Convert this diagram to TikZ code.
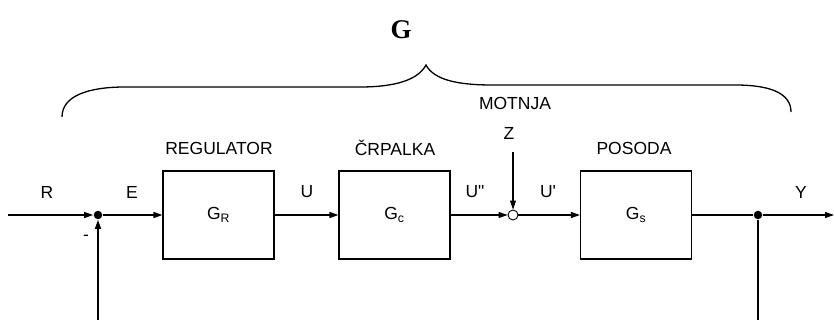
\documentclass[tikz,border=0pt]{standalone}
\usepackage{fontspec}
\setmainfont{Liberation Sans}[Ligatures=TeXOff]
\newfontfamily\gfont{Liberation Serif}
\usepackage{tikz}
\usetikzlibrary{positioning,arrows.meta}

\begin{document}
\begin{tikzpicture}[
  x=1pt, y=1pt, line width=1.1pt,
  font=\fontsize{17.5}{20}\selectfont, >={Stealth[length=9pt,width=6pt,inset=0pt]},
  blk/.style={draw, rectangle, minimum width=111pt, minimum height=88pt, inner sep=0pt},
  lbl/.style={inner sep=0pt, anchor=center},
  dot/.style={circle, fill, inner sep=0pt, minimum size=8.5pt},
  sum/.style={circle, draw, fill=white, line width=0.9pt, inner sep=0pt, minimum size=10pt},
  sig/.style={->},
]
\useasboundingbox (0,0) rectangle (834,-320);

% blocks
\node[blk] (gr) at (218.5,-215) {G\textsubscript{R}};
\node[blk] (gc) at (394.5,-215) {G\textsubscript{c}};
\node[blk] (gs) at (636,-215)   {G\textsubscript{s}};

% junctions
\node[dot] (sum1) at (98,-215)  {};
\node[sum] (sum2) at (513,-215) {};
\node[dot] (pick) at (758,-215) {};

\coordinate (in)  at (8,-215);
\coordinate (out) at (834,-215);
\coordinate (zin) at (513,-152);
\coordinate (fbl) at (98,-320);
\coordinate (fbr) at (758,-320);

% signals
\draw[sig] (in) -- (sum1.west);
\draw[sig] (sum1) -- (gr);
\draw[sig] (gr) -- (gc);
\draw[sig] (gc) -- (sum2);
\draw[sig] (zin) -- (sum2);
\draw[sig] (sum2) -- (gs);
\draw (gs) -- (pick);
\draw[sig] (pick) -- (out);
\draw (pick) -- (fbr);
\draw[sig] (fbl) -- (sum1.south);

% labels
\node[lbl] (lr)  at (47,-192)  {R};
\node[lbl] (le)  at (132,-192) {E};
\node[lbl] (lu)  at (307,-192) {U};
\node[lbl] (luu) at (475,-192) {U"};
\node[lbl] (lup) at (548,-192) {U'};
\node[lbl] (ly)  at (801,-192) {Y};
\node[lbl] (lz)  at (509,-133) {Z};
\node[lbl] (lm)  at (86,-238)  {-};
\node[lbl] (treg) at (219,-148) {REGULATOR};
\node[lbl] (tcrp) at (395,-148) {ČRPALKA};
\node[lbl] (tpos) at (634,-148) {POSODA};
\node[lbl] (tmot) at (515,-103) {MOTNJA};

% brace
\draw[line width=1.3pt] (62,-117) .. controls (62,-96) and (88,-87) .. (125,-87)
  -- (360,-87) .. controls (395,-87) and (418,-80) .. (426,-65)
  .. controls (434,-80) and (458,-85) .. (492,-85)
  -- (735,-85) .. controls (772,-85) and (791,-94) .. (791,-112);
\node[lbl, font=\gfont\bfseries\fontsize{27}{30}\selectfont] (g) at (401,-30) {G};
\end{tikzpicture}
\end{document}
